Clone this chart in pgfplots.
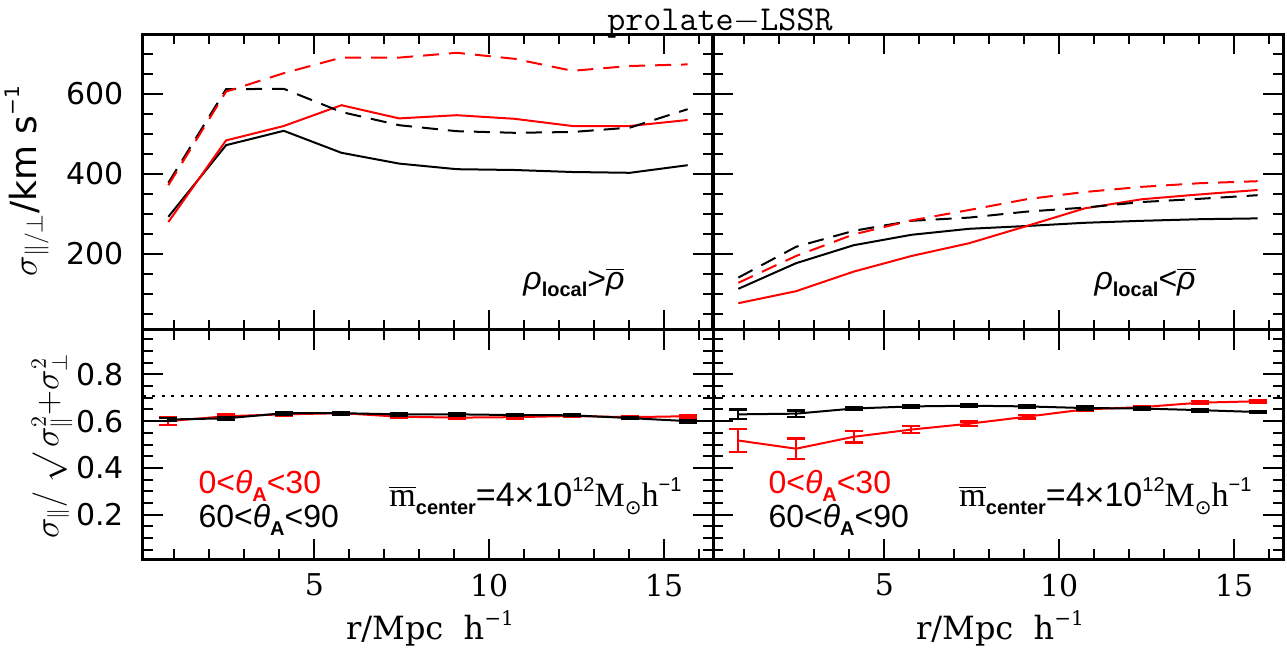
\documentclass[border=0pt]{standalone}
\usepackage{fontspec}
\usepackage{pgfplots}
\pgfplotsset{compat=1.18}
\newfontfamily\dvs{DejaVu Sans}
\newfontfamily\dvserif{DejaVu Serif}
\newfontfamily\lsans{Liberation Sans}
\newfontfamily\lserif{Liberation Serif}
\definecolor{myred}{RGB}{255,0,0}
\newcommand{\mysub}[1]{\raisebox{-0.45ex}{\fontsize{10}{10}\selectfont #1}}
\newcommand{\mysup}[1]{\raisebox{0.85ex}{\fontsize{10}{10}\selectfont #1}}
\tikzset{annot/.style={font=\lsans\fontsize{16}{16}\selectfont}}

\pgfplotsset{
 panel/.style={
  scale only axis, width=285pt,
  xmin=0.1, xmax=16.4,
  xtick={5,10,15}, minor xtick={1,2,3,4,6,7,8,9,11,12,13,14,16},
  tick align=inside,
  major tick length=10pt, minor tick length=5pt,
  axis line style={line width=1.5pt},
  every tick/.style={black, line width=1pt},
  xticklabels={}, yticklabels={},
  xticklabel style={font=\dvserif\fontsize{15}{15}\selectfont, yshift=-4pt},
  yticklabel style={font=\dvs\fontsize{15}{15}\selectfont, xshift=-6pt},
 },
 toppanel/.style={panel, height=148pt, ymin=10, ymax=750, ytick={200,400,600},
  minor ytick={50,100,150,250,300,350,450,500,550,650,700}},
 botpanel/.style={panel, height=114.5pt, ymin=0.01, ymax=0.99, ytick={0.2,0.4,0.6,0.8},
  minor ytick={0.05,0.1,0.15,0.25,0.3,0.35,0.45,0.5,0.55,0.65,0.7,0.75,0.85,0.9,0.95}},
 sline/.style={line width=1pt},
 dline/.style={line width=1pt, dash pattern=on 8pt off 5pt},
 ebar/.style={line width=1pt, error bars/.cd, y dir=both, y explicit,
  error bar style={line width=1pt},
  error mark options={rotate=90, line width=1.2pt, mark size=4.5pt}},
}

\pgfplotstableread{
x      bs   rs   bd   rd
0.825  293  280  378  372
2.475  472  484  612  606
4.125  508  520  613  652
5.775  453  572  555  691
7.425  426  539  522  691
9.075  412  547  507  703
10.725 410  538  503  688
12.375 405  520  505  658
14.025 403  520  516  670
15.675 422  535  562  674
}\toplefttab

\pgfplotstableread{
x      bs   rs   bd   rd
0.825  113  77   141  128
2.475  177  107  218  195
4.125  222  156  258  249
5.775  248  195  283  284
7.425  263  227  291  310
9.075  270  270  306  337
10.725 278  314  316  355
12.375 283  337  330  368
14.025 287  349  338  377
15.675 289  360  347  382
}\toprighttab

\pgfplotstableread{
x      b      be     r      re
0.825  0.607  0.006  0.600  0.016
2.475  0.612  0.006  0.621  0.008
4.125  0.634  0.005  0.629  0.007
5.775  0.634  0.005  0.634  0.005
7.425  0.629  0.005  0.619  0.006
9.075  0.629  0.005  0.615  0.006
10.725 0.626  0.005  0.617  0.006
12.375 0.625  0.004  0.622  0.004
14.025 0.613  0.004  0.617  0.004
15.675 0.600  0.006  0.621  0.006
}\botlefttab

\pgfplotstableread{
x      b      be     r      re
0.825  0.629  0.020  0.517  0.049
2.475  0.632  0.014  0.482  0.043
4.125  0.654  0.007  0.533  0.025
5.775  0.663  0.006  0.564  0.015
7.425  0.666  0.005  0.589  0.010
9.075  0.663  0.005  0.619  0.008
10.725 0.656  0.006  0.650  0.007
12.375 0.654  0.005  0.660  0.006
14.025 0.647  0.005  0.679  0.006
15.675 0.639  0.005  0.685  0.005
}\botrighttab

\newcommand{\mcenter}{{\lserif$\overline{\mbox{m}}$}\mysub{\bfseries center}=4×10\mysup{12}{\lserif M}\mysub{\dvs ⊙}{\lserif h}\mysup{−1}}

\begin{document}
\begin{tikzpicture}
% bottom left
\begin{axis}[botpanel, at={(0pt,0pt)}, anchor=south west,
  xticklabels={5,10,15}, yticklabels={0.2,0.4,0.6,0.8}]
\addplot[black, line width=1pt, dash pattern=on 1.5pt off 3.2pt] coordinates {(0.1,0.707) (16.4,0.707)};
\addplot[myred, ebar] table[x=x, y=r, y error=re] {\botlefttab};
\addplot[black, ebar] table[x=x, y=b, y error=be] {\botlefttab};
\node[anchor=west, text=myred, annot] at (rel axis cs:0.085,0.32) {0<{\itshape θ}\mysub{\bfseries A}<30};
\node[anchor=west, annot] at (rel axis cs:0.085,0.17) {60<{\itshape θ}\mysub{\bfseries A}<90};
\node[anchor=west, annot, font=\lsans\fontsize{17}{17}\selectfont] at (rel axis cs:0.42,0.275) {\mcenter};
\end{axis}
% top left
\begin{axis}[toppanel, at={(0pt,114.5pt)}, anchor=south west, yticklabels={200,400,600}]
\addplot[black, sline] table[x=x, y=bs] {\toplefttab};
\addplot[myred, sline] table[x=x, y=rs] {\toplefttab};
\addplot[black, dline] table[x=x, y=bd] {\toplefttab};
\addplot[myred, dline] table[x=x, y=rd] {\toplefttab};
\node[annot] at (rel axis cs:0.756,0.16) {{\itshape ρ}\mysub{\bfseries local}>$\overline{\mbox{\itshape ρ}}$};
\end{axis}
% bottom right
\begin{axis}[botpanel, at={(285pt,0pt)}, anchor=south west, xticklabels={5,10,15}]
\addplot[black, line width=1pt, dash pattern=on 1.5pt off 3.2pt] coordinates {(0.1,0.707) (16.4,0.707)};
\addplot[myred, ebar] table[x=x, y=r, y error=re] {\botrighttab};
\addplot[black, ebar] table[x=x, y=b, y error=be] {\botrighttab};
\node[anchor=west, text=myred, annot] at (rel axis cs:0.085,0.32) {0<{\itshape θ}\mysub{\bfseries A}<30};
\node[anchor=west, annot] at (rel axis cs:0.085,0.17) {60<{\itshape θ}\mysub{\bfseries A}<90};
\node[anchor=west, annot, font=\lsans\fontsize{17}{17}\selectfont] at (rel axis cs:0.42,0.275) {\mcenter};
\end{axis}
% top right
\begin{axis}[toppanel, at={(285pt,114.5pt)}, anchor=south west]
\addplot[black, sline] table[x=x, y=bs] {\toprighttab};
\addplot[myred, sline] table[x=x, y=rs] {\toprighttab};
\addplot[black, dline] table[x=x, y=bd] {\toprighttab};
\addplot[myred, dline] table[x=x, y=rd] {\toprighttab};
\node[annot] at (rel axis cs:0.758,0.16) {{\itshape ρ}\mysub{\bfseries local}<$\overline{\mbox{\itshape ρ}}$};
\end{axis}
% labels
\node[anchor=base west, inner sep=0pt, font=\ttfamily\fontsize{17.5}{17.5}\selectfont] at (232pt,264pt) {prolate$-$LSSR};
\node[rotate=90, font=\dvs\fontsize{16}{16}\selectfont] at (-58pt,189pt) {\fontsize{18}{18}\selectfont$\sigma_{\parallel/\perp}$/km s\mysup{−1}};
\node[rotate=90, font=\fontsize{16}{16}\selectfont] at (-45.5pt,56.5pt) {$\sigma_{\parallel}/\ \surd\,\sigma_{\parallel}^{2}{+}\sigma_{\perp}^{2}$};
\node[font=\dvserif\fontsize{16}{16}\selectfont] at (143.5pt,-34.5pt) {r/Mpc\ \ h\mysup{−1}};
\node[font=\dvserif\fontsize{16}{16}\selectfont] at (428.5pt,-34.5pt) {r/Mpc\ \ h\mysup{−1}};
\pgfresetboundingbox
\path[use as bounding box] (-71.5pt,-47.5pt) rectangle (572pt,279.5pt);
\end{tikzpicture}
\end{document}
